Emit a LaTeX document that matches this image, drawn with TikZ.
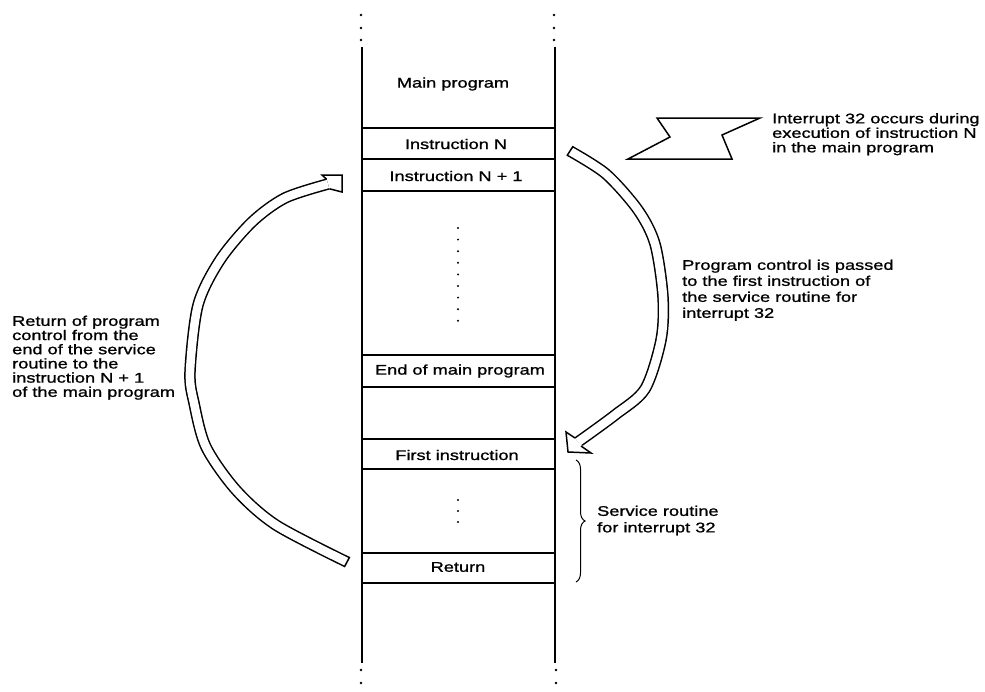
\documentclass[tikz,border=0pt]{standalone}
\usepackage{fontspec}
\setmainfont{Liberation Sans}[FakeStretch=1.3,FakeBold=1.1]
\usetikzlibrary{decorations.pathreplacing}
\begin{document}
\begin{tikzpicture}[x=1pt,y=-1pt,
  lbl/.style={inner sep=0pt, font=\fontsize{14}{15}\selectfont},
  note/.style={inner sep=0pt, align=left, anchor=north west},
  col/.style={line width=2.4pt},
  cell/.style={line width=1.6pt},
  outl/.style={line width=1.5pt, line join=miter},
  shaftb/.style={line width=11.5pt},
  shaftw/.style={white, line width=8.5pt}]
\useasboundingbox (0,0) rectangle (985,691);

% column
\coordinate (LT) at (362,47); \coordinate (LB) at (362,663);
\coordinate (RT) at (555,47); \coordinate (RB) at (555,663);
\draw[col] (LT) -- (LB);
\draw[col] (RT) -- (RB);
\foreach \y in {15,28,40} { \fill (361,\y) circle (1.3pt); \fill (554,\y) circle (1.3pt); }
\foreach \y in {670,683} { \fill (361,\y) circle (1.3pt); \fill (556,\y) circle (1.3pt); }
\foreach \y in {128,159,191,355,387,439,469,553,583} \draw[cell] (362,\y) -- (555,\y);

% cell texts
\node[lbl] (main) at (453,84) {Main program};
\node[lbl] (instN) at (456,144) {Instruction N};
\node[lbl] (instN1) at (456,176) {Instruction N + 1};
\node[lbl] (endmain) at (460,371) {End of main program};
\node[lbl] (first) at (457,455) {First instruction};
\node[lbl] (ret) at (458,567) {Return};

% dots
\foreach \i in {0,...,8} \fill (458,{228+\i*11.6}) circle (1.1pt);
\foreach \y in {500,511,522} \fill (458,\y) circle (1.1pt);

% lightning bolt
\draw[outl] (657,118) -- (760,118) -- (722,135) -- (732,159) -- (628,159) -- (670,137) -- cycle;

% labels
\node[lbl,note,font=\fontsize{14}{14.5}\selectfont] (intlbl) at (772,113) {Interrupt 32 occurs during\\execution of instruction N\\in the main program};
\node[lbl,note,font=\fontsize{14}{16}\selectfont] (passlbl) at (682,259.5) {Program control is passed\\to the first instruction of\\the service routine for\\interrupt 32};
\node[lbl,note,font=\fontsize{14}{16.5}\selectfont] (servlbl) at (597,505.5) {Service routine\\for interrupt 32};
\node[lbl,note,font=\fontsize{14}{14.2}\selectfont] (retlbl) at (12,315.5) {Return of program\\control from the\\end of the service\\routine to the\\instruction N + 1\\of the main program};

% brace
\draw[line width=1pt, decorate, decoration={brace, amplitude=9pt}] (576,460) -- (576,582);

% right hollow arrow
\coordinate (rs) at (570,151);
\coordinate (re) at (578,442);
\draw[shaftb] plot[smooth] coordinates {(rs) (606,174) (638,210) (655,244) (663,297) (661,340) (645,389) (615,415) (re)};
\draw[shaftw] plot[smooth] coordinates {(rs) (606,174) (638,210) (655,244) (663,297) (661,340) (645,389) (615,415) (re)};
\draw[outl] (566.9,155.8) -- (573.1,146.2);
\fill[white] (566,432) -- (568,452) -- (591,453) -- cycle;
\draw[outl] (575,438) -- (566,432) -- (568,452) -- (591,453) -- (581,446);

% left hollow arrow
\coordinate (ls) at (347,562);
\coordinate (le) at (328,184);
\draw[shaftb] plot[smooth] coordinates {(ls) (276,525) (236,490) (206,447) (194,403) (190,372) (198,305) (220,260) (252,222) (285,198) (le)};
\draw[shaftw] plot[smooth] coordinates {(ls) (276,525) (236,490) (206,447) (194,403) (190,372) (198,305) (220,260) (252,222) (285,198) (le)};
\draw[outl] (349.7,556.9) -- (344.3,567.1);
\fill[white] (322,175) -- (342,175) -- (342,192) -- cycle;
\draw[outl] (326.5,179.2) -- (322,175) -- (342,175) -- (342,192) -- (329.5,188.8);
\end{tikzpicture}
\end{document}
